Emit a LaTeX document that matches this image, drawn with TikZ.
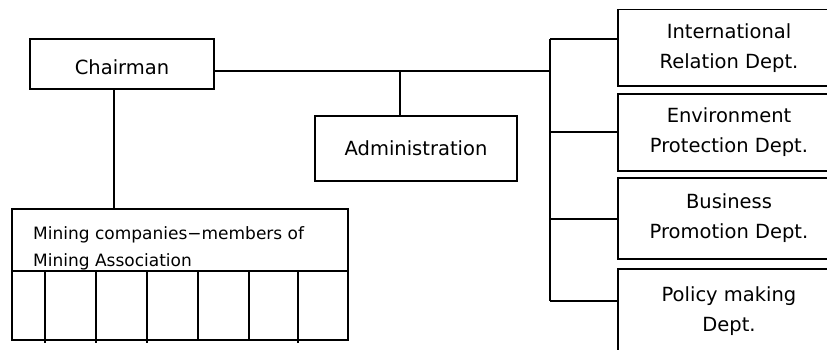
\documentclass[tikz,border=0pt]{standalone}
\usepackage{fontspec}
\setmainfont{DejaVu Sans}
\begin{document}
\begin{tikzpicture}[x=1pt,y=-1pt,
  box/.style={draw, line width=1.2pt, rectangle, inner sep=0pt, outer sep=0pt,
    font=\fontsize{19.5}{30}\selectfont, align=center},
  link/.style={line width=1.2pt},
  cell/.style={line width=1.2pt},
]
\useasboundingbox (0,0) rectangle (827,349);
\clip (0,0) rectangle (827,349);

% top-level boxes
\node[box, minimum width=184pt, minimum height=50pt, text height=21pt, text depth=0pt] (chair) at (122,64) {Chairman};
\node[box, minimum width=202pt, minimum height=65pt] (admin) at (416,148.5) {Administration};

% departments (they run past the right edge)
\node[box, minimum width=222pt, minimum height=76.7pt] (intl) at (729,47.7) {International\\Relation Dept.};
\node[box, minimum width=222pt, minimum height=77pt] (env) at (729,132.5) {Environment\\Protection Dept.};
\node[box, minimum width=222pt, minimum height=81pt] (bus) at (729,218.5) {Business\\Promotion Dept.};
\node[box, minimum width=222pt, minimum height=84pt] (pol) at (729,311) {Policy making\\Dept.};

% member companies table
\node[draw, line width=1.2pt, rectangle, inner sep=0pt, outer sep=0pt,
  minimum width=336pt, minimum height=131pt, anchor=north west] (mem) at (12,209) {};
\node[anchor=north west, inner sep=0pt, align=left,
  font=\fontsize{17}{27.5}\selectfont] (memtxt) at (33,226)
  {Mining companies−members of\\Mining Association};
\coordinate (divy) at (0,271);
\draw[cell] (mem.west |- divy) -- (mem.east |- divy);
\foreach \cx in {45,96,147,298} \draw[cell] (\cx,271) -- (\cx,343);
\foreach \cx in {198,249} \draw[cell] (\cx,271) -- (\cx,340);

% connectors
\coordinate (hy) at (0,71);
\coordinate (adminJ) at (400,71);
\coordinate (busT) at (550,39);
\coordinate (busM) at (550,71);
\coordinate (busB) at (550,301);
\coordinate (bEnv) at (550,132);
\coordinate (bBus) at (550,219);

\draw[link] (chair.east |- hy) -- (busM);
\draw[link] (adminJ) -- (adminJ |- admin.north);
\draw[link] ([xshift=-8pt]chair.south) -- ([xshift=-8pt]chair.south |- mem.north);
\draw[link] (busT) -- (busB);
\draw[link] (busT) -- (intl.west |- busT);
\draw[link] (bEnv) -- (env.west |- bEnv);
\draw[link] (bBus) -- (bus.west |- bBus);
\draw[link] (busB) -- (pol.west |- busB);
\end{tikzpicture}
\end{document}
